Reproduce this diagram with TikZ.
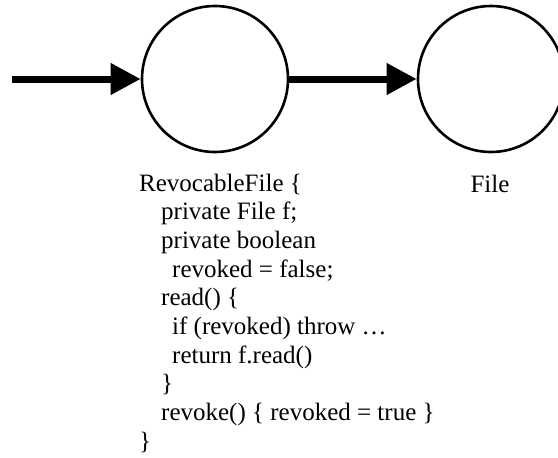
\documentclass[tikz,border=0pt]{standalone}
\usepackage{fontspec}
\setmainfont{Liberation Serif}
\usetikzlibrary{arrows.meta}
\tikzset{
  state/.style={circle, draw=black, line width=2.6pt, minimum size=146pt, inner sep=0pt},
  flow/.style={line width=7pt, -{Triangle[length=30pt,width=30pt]}},
  code/.style={anchor=base west, inner sep=0pt, font=\fontsize{25pt}{28pt}\selectfont},
  label/.style={anchor=base, inner sep=0pt, font=\fontsize{25pt}{28pt}\selectfont}
}
\begin{document}
\begin{tikzpicture}[x=1pt,y=-1pt]
\useasboundingbox (0,0) rectangle (558,458);
\clip (0,0) rectangle (558,458);
\node[state] (rf) at (215,79) {};
\node[state] (f) at (491,79) {};
\coordinate (in) at (12,79);
\draw[flow] (in) -- (rf.west);
\draw[flow] (rf.east) -- (f.west);
\node[label] (fl) at (490,192) {File};
\node[code] (l1) at (139,191) {RevocableFile \{};
\node[code] (l2) at (161,219.7) {private File f;};
\node[code] (l3) at (161,248.4) {private boolean};
\node[code] (l4) at (172,277.1) {revoked = false;};
\node[code] (l5) at (161,305.8) {read() \{};
\node[code] (l6) at (172,334.5) {if (revoked) throw \dots};
\node[code] (l7) at (172,363.2) {return f.read()};
\node[code] (l8) at (161,391.9) {\}};
\node[code] (l9) at (161,420.6) {revoke() \{ revoked = true \}};
\node[code] (l10) at (139,449.3) {\}};
\end{tikzpicture}
\end{document}
